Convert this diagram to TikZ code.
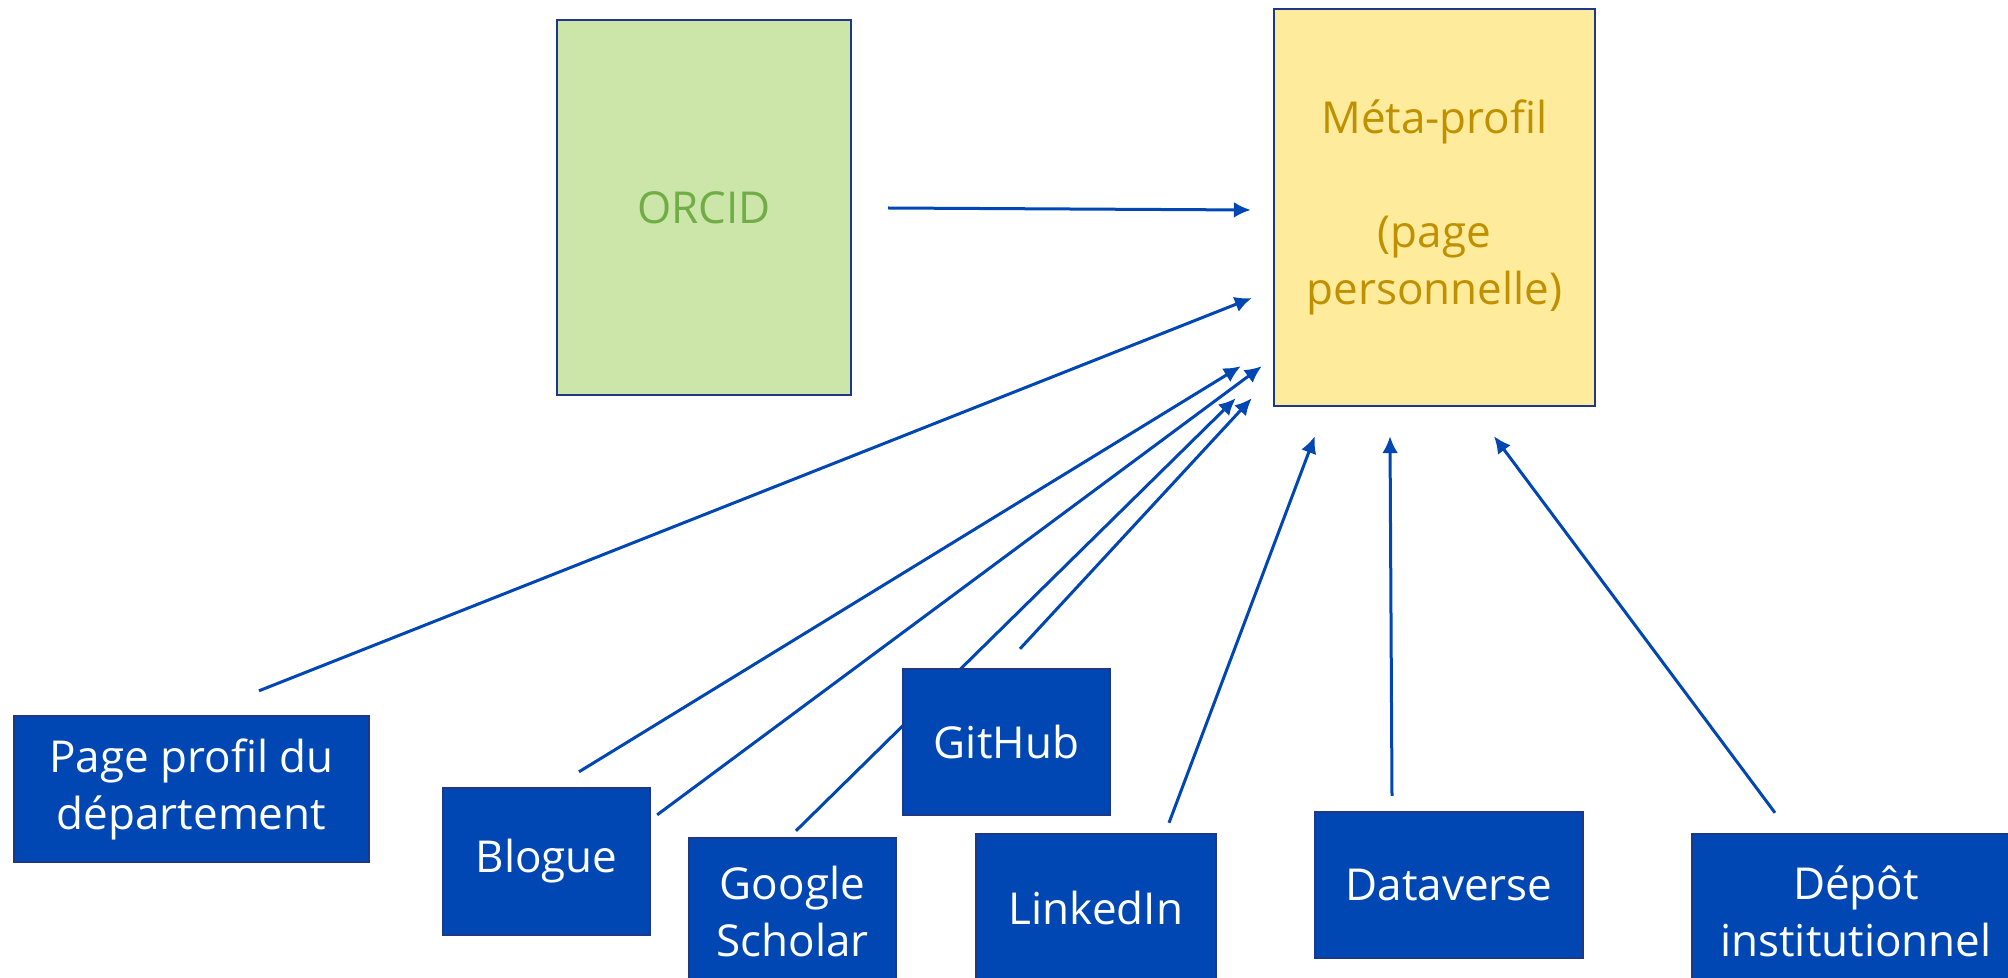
\documentclass[tikz,border=0pt]{standalone}
\usepackage{fontspec}
\setmainfont{Open Sans}
\usetikzlibrary{arrows.meta,backgrounds}

\definecolor{boxblue}{RGB}{0,71,179}
\definecolor{boxedge}{RGB}{30,55,135}
\definecolor{orcidfill}{RGB}{204,229,168}
\definecolor{orcidtext}{RGB}{112,173,71}
\definecolor{metafill}{RGB}{255,235,156}
\definecolor{metatext}{RGB}{191,144,0}

\tikzstyle{every node}=[inner sep=0pt,align=center,font=\fontsize{22}{28.5}\selectfont]
\tikzstyle{source}=[draw=boxedge,line width=1.2pt,fill=boxblue,text=white]
\tikzstyle{link}=[draw=boxblue,line width=1.5pt,-{Latex[length=8.5pt,width=8pt]}]

\begin{document}
\begin{tikzpicture}[x=0.5pt,y=-0.5pt]
  \useasboundingbox (0,0) rectangle (2008,978);

  \node[draw=boxedge,line width=1.2pt,fill=orcidfill,text=orcidtext,
    minimum width=147pt,minimum height=187.5pt] (orcid) at (704,207.5) {ORCID};
  \node[draw=boxedge,line width=1.2pt,fill=metafill,text=metatext,
    minimum width=160.5pt,minimum height=198.5pt] (meta) at (1434.5,207.5)
    {Méta-profil\\~\\(page\\personnelle)};

  \node[source,minimum width=177.5pt,minimum height=73pt] (page) at (191.5,789) {Page profil du\\département};
  \node[source,minimum width=103.5pt,minimum height=73.5pt] (blogue) at (546.5,861.5) {Blogue};
  \node[source,minimum width=103.5pt,minimum height=73.5pt] (scholar) at (792.5,911.5) {Google\\Scholar};
  \node[source,minimum width=103.5pt,minimum height=73pt] (github) at (1006.5,742) {GitHub};
  \node[source,minimum width=120pt,minimum height=74pt] (linkedin) at (1096,908) {LinkedIn};
  \node[source,minimum width=134pt,minimum height=73pt] (dataverse) at (1449,885) {Dataverse};
  \node[source,minimum width=164pt,minimum height=77pt] (depot) at (1856,911) {Dépôt\\institutionnel};

  % arrows go behind the boxes
  \begin{scope}[on background layer]
    \draw[link] ([shift={(36,0.5)}]orcid.east) -- ([shift={(-22,2.5)}]meta.west);
    \draw[link] ([shift={(67.5,-24)}]page.north) -- ([shift={(-21,90.5)}]meta.west);
    \draw[link] ([shift={(32.5,-15)}]blogue.north) -- ([shift={(-32,-41)}]meta.south west);
    \draw[link] ([shift={(6,28)}]blogue.north east) -- ([shift={(-11,-41)}]meta.south west);
    \draw[link] ([shift={(3.5,-6)}]scholar.north) -- ([shift={(-37,-9)}]meta.south west);
    \draw[link] ([shift={(13.5,-19)}]github.north) -- ([shift={(-21,-9)}]meta.south west);
    \draw[link] ([shift={(73,-10)}]linkedin.north) -- ([shift={(42,29)}]meta.south west);
    \draw[link] ([shift={(-57,-15)}]dataverse.north) -- ([shift={(-44.5,29)}]meta.south);
    \draw[link] ([shift={(-81,-20)}]depot.north) -- ([shift={(59.5,29)}]meta.south);
  \end{scope}
\end{tikzpicture}
\end{document}
